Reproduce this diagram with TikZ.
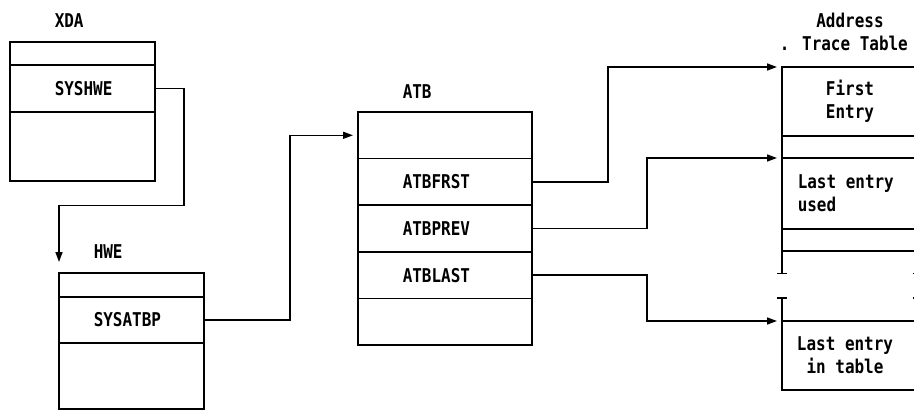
\documentclass[tikz,border=0pt]{standalone}
\usepackage{fontspec}
\usepackage{tikz}
\usetikzlibrary{arrows.meta, positioning}
\newfontfamily\ibmfont[FakeStretch=0.84]{DejaVu Sans Mono}

\begin{document}
\begin{tikzpicture}[
  x=1pt, y=-1pt,
  line width=1.5pt,
  font=\ibmfont\bfseries\fontsize{19}{23}\selectfont,
  field/.style={draw, rectangle, inner sep=0pt, outer sep=0pt, minimum width=#1},
  title/.style={anchor=west, inner sep=0pt},
  txt/.style={inner sep=0pt, align=left},
  link/.style={-{Triangle[length=10pt,width=7pt]}, shorten >=5pt},
  brk/.style={-{Bar[width=10pt]}}
]
\clip (0,0) rectangle (914,412);

% XDA
\node[field=145, minimum height=23, anchor=north west] (xdatop) at (10,42) {};
\node[field=145, minimum height=47, below=0pt of xdatop] (xdahwe) {};
\node[field=145, minimum height=69, below=0pt of xdahwe] (xdabot) {};
\node[title] (xdaname) at ([xshift=44pt, yshift=21pt]xdatop.north west) {XDA};
\node[txt, anchor=west] at ([xshift=44pt]xdahwe.west) {SYSHWE};

% HWE
\node[field=145, minimum height=24, anchor=north west] (hwetop) at (59,273) {};
\node[field=145, minimum height=46, below=0pt of hwetop] (hweatbp) {};
\node[field=145, minimum height=66, below=0pt of hweatbp] (hwebot) {};
\node[title] (hwename) at ([xshift=34pt, yshift=21pt]hwetop.north west) {HWE};
\node[txt, anchor=west] at ([xshift=34pt]hweatbp.west) {SYSATBP};

% ATB
\node[field=174, minimum height=46.6, anchor=north west] (atbtop) at (358,112) {};
\node[field=174, minimum height=46.6, below=0pt of atbtop] (atbfrst) {};
\node[field=174, minimum height=46.6, below=0pt of atbfrst] (atbprev) {};
\node[field=174, minimum height=46.6, below=0pt of atbprev] (atblast) {};
\node[field=174, minimum height=46.6, below=0pt of atblast] (atbbot) {};
\node[title] (atbname) at ([xshift=44pt, yshift=20pt]atbtop.north west) {ATB};
\node[txt, anchor=west] at ([xshift=44pt]atbfrst.west) {ATBFRST};
\node[txt, anchor=west] at ([xshift=44pt]atbprev.west) {ATBPREV};
\node[txt, anchor=west] at ([xshift=44pt]atblast.west) {ATBLAST};

% Address Trace Table
\node[field=136, minimum height=69, anchor=north west, align=center] (atfirst) at (782,67) {First\\Entry};
\node[field=136, minimum height=22, below=0pt of atfirst] (atgap) {};
\node[field=136, minimum height=71, below=0pt of atgap] (atlast) {};
\node[field=136, minimum height=22, below=0pt of atlast] (atmore) {};
\node[field=136, minimum height=69, anchor=north west] (atend) at (782,321) {};
\node[txt, anchor=west] at ([xshift=15pt]atlast.west) {Last entry\\used};
\node[txt, align=center] at ([xshift=-5pt]atend.center) {Last entry\\in table};
\node[inner sep=0pt] (atname) at ([yshift=47pt]atfirst.north) {Address};
\node[title] (atname2) at ([xshift=-3pt, yshift=24pt]atfirst.north west) {. Trace Table};

\draw[brk] (atmore.south west) -- ++(0,23);
\draw[brk] (atmore.south east) -- ++(0,23);
\draw[brk] (atend.north west) -- ++(0,-24);
\draw[brk] (atend.north east) -- ++(0,-24);

% pointers
\draw[link, shorten >=11pt] (xdahwe.east) -- ++(29,0) -- ++(0,117) -| (hwetop.north west);
\draw[link] (hweatbp.east) -- ++(86,0) |- (atbtop.west);
\draw[link] (atbfrst.east) -- ++(76,0) |- (atfirst.north west);
\draw[link] (atbprev.east) -- ++(115,0) |- (atlast.north west);
\draw[link] (atblast.east) -- ++(115,0) |- (atend.north west);
\end{tikzpicture}
\end{document}
